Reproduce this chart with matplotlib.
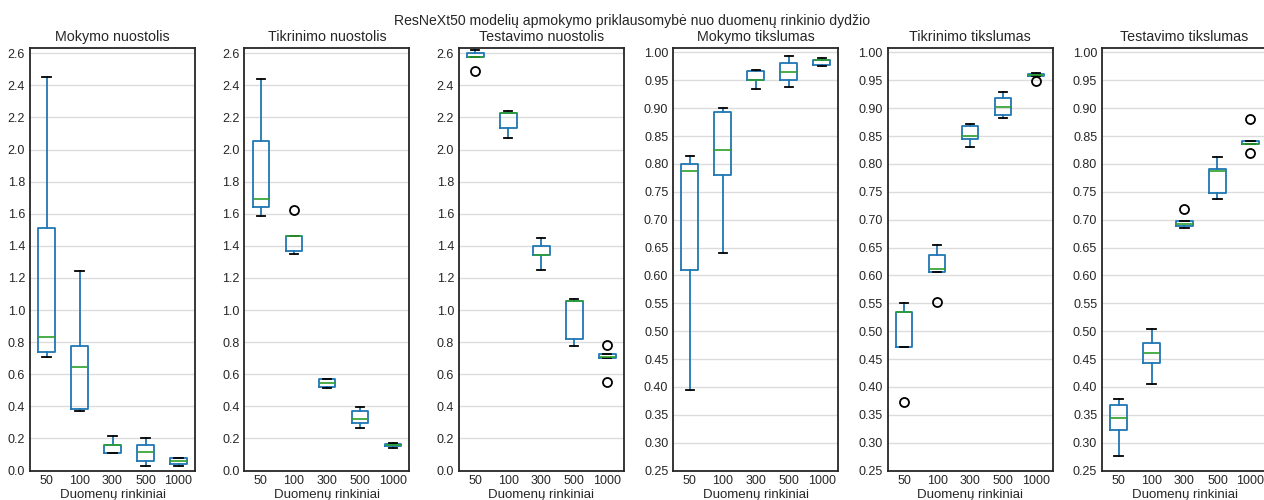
import matplotlib
matplotlib.use("Agg")
import matplotlib.pyplot as plt
from matplotlib.ticker import FormatStrFormatter

plt.rcParams["font.family"] = ["Liberation Sans", "DejaVu Sans"]

# dataset sizes and five runs per size
sizes = ["50", "100", "300", "500", "1000"]

train_loss = [
    [0.706, 0.741, 0.835, 1.51, 2.455],
    [0.370, 0.386, 0.648, 0.777, 1.246],
    [0.108, 0.108, 0.160, 0.162, 0.216],
    [0.029, 0.058, 0.118, 0.158, 0.200],
    [0.031, 0.042, 0.058, 0.075, 0.079],
]
val_loss = [
    [1.587, 1.645, 1.690, 2.056, 2.442],
    [1.350, 1.371, 1.464, 1.464, 1.622],
    [0.515, 0.521, 0.544, 0.571, 0.573],
    [0.262, 0.299, 0.320, 0.368, 0.395],
    [0.143, 0.150, 0.158, 0.166, 0.174],
]
test_loss = [
    [2.492, 2.578, 2.578, 2.602, 2.620],
    [2.075, 2.135, 2.230, 2.230, 2.241],
    [1.252, 1.340, 1.342, 1.402, 1.452],
    [0.773, 0.818, 1.057, 1.057, 1.070],
    [0.550, 0.698, 0.706, 0.725, 0.779],
]
train_acc = [
    [0.394, 0.609, 0.787, 0.8005, 0.814],
    [0.641, 0.780, 0.825, 0.893, 0.901],
    [0.935, 0.951, 0.951, 0.967, 0.968],
    [0.938, 0.951, 0.965, 0.981, 0.993],
    [0.975, 0.977, 0.986, 0.987, 0.990],
]
val_acc = [
    [0.373, 0.472, 0.535, 0.535, 0.551],
    [0.553, 0.606, 0.612, 0.636, 0.654],
    [0.830, 0.845, 0.850, 0.868, 0.871],
    [0.883, 0.888, 0.903, 0.919, 0.929],
    [0.949, 0.958, 0.959, 0.961, 0.963],
]
test_acc = [
    [0.276, 0.323, 0.344, 0.368, 0.378],
    [0.406, 0.443, 0.461, 0.479, 0.504],
    [0.6855, 0.688, 0.693, 0.6975, 0.720],
    [0.737, 0.747, 0.787, 0.791, 0.812],
    [0.820, 0.835, 0.835, 0.842, 0.881],
]

panels = [
    ("Mokymo nuostolis", train_loss),
    ("Tikrinimo nuostolis", val_loss),
    ("Testavimo nuostolis", test_loss),
    ("Mokymo tikslumas", train_acc),
    ("Tikrinimo tikslumas", val_acc),
    ("Testavimo tikslumas", test_acc),
]

TEXT = "#262626"
BLUE = "#1f77b4"
W, H = 1264, 500

fig = plt.figure(figsize=(W / 100, H / 100), dpi=100)
fig.suptitle("ResNeXt50 modelių apmokymo priklausomybė nuo duomenų rinkinio dydžio",
             x=0.5, y=0.958, va="center", fontsize=10.1, color=TEXT)

for i, (title, data) in enumerate(panels):
    left = 30 + 214.4 * i
    ax = fig.add_axes([left / W, 29.5 / H, 165 / W, 422.5 / H])
    ax.boxplot(data, widths=0.5,
               boxprops=dict(color=BLUE, linewidth=1.3),
               whiskerprops=dict(color=BLUE, linewidth=1.3),
               medianprops=dict(color="#2ca02c", linewidth=1.2),
               capprops=dict(color="black", linewidth=1.3),
               flierprops=dict(marker="o", markerfacecolor="none",
                               markeredgecolor="black", markersize=6.5,
                               markeredgewidth=1.3))
    ax.set_xticks(range(1, len(sizes) + 1), sizes)
    ax.set_xlim(0.5, 5.5)
    if i < 3:
        ax.set_ylim(0, 2.633)
        ax.set_yticks([k * 0.2 for k in range(14)])
        ax.yaxis.set_major_formatter(FormatStrFormatter("%.1f"))
    else:
        ax.set_ylim(0.25, 1.008)
        ax.set_yticks([0.25 + k * 0.05 for k in range(16)])
        ax.yaxis.set_major_formatter(FormatStrFormatter("%.2f"))
    ax.grid(axis="y", color="#dcdcdc", linewidth=1.0)
    ax.set_axisbelow(True)
    ax.tick_params(length=0, pad=3.5, labelsize=9, labelcolor=TEXT)
    for s in ax.spines.values():
        s.set_color(TEXT)
        s.set_linewidth(1.3)
    ax.set_title(title, fontsize=10.3, color=TEXT, pad=5)
    ax.set_xlabel("Duomenų rinkiniai", fontsize=9.5, color=TEXT, labelpad=1.5)

fig.savefig("out.png", dpi=100)
